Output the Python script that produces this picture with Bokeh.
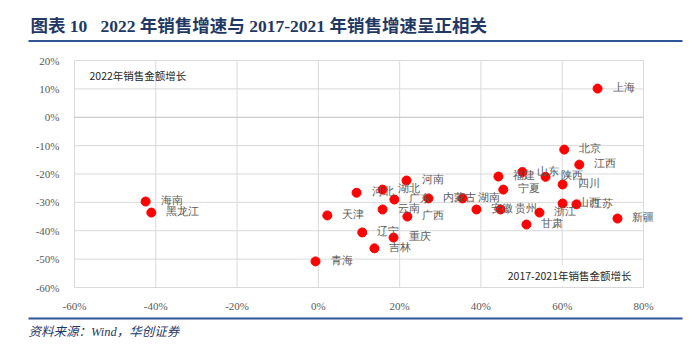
from bokeh.plotting import figure
from bokeh.models import Range1d, FixedTicker, Label, LabelSet, ColumnDataSource, LinearAxis
from bokeh.core.properties import value
from bokeh.embed import file_html
from bokeh.resources import INLINE

# ---------------- data ----------------
provinces = ["上海", "北京", "江西", "福建", "山东", "陕西", "四川", "宁夏",
             "安徽", "贵州", "浙江", "山西", "江苏", "甘肃", "新疆", "湖南",
             "内蒙古", "广东", "湖北", "河北", "河南", "云南", "广西", "天津",
             "辽宁", "重庆", "吉林", "青海", "海南", "黑龙江"]
growth_2017_2021 = [68.7, 60.5, 64.2, 44.3, 50.2, 55.9, 60.1, 45.5,
                    38.9, 44.8, 54.4, 60.1, 63.5, 51.2, 73.6, 35.5,
                    27.1, 18.7, 15.8, 9.4, 21.7, 15.8, 21.9, 2.2,
                    10.8, 18.5, 13.8, -0.7, -42.5, -41.1]
growth_2022 = [10.1, -11.4, -16.7, -20.9, -19.3, -21.0, -23.7, -25.5,
               -32.5, -32.5, -33.6, -30.4, -30.7, -37.8, -35.7, -28.6,
               -28.6, -29.0, -25.5, -26.6, -22.3, -32.5, -35.0, -34.6,
               -40.6, -42.4, -46.2, -50.8, -29.7, -33.6]
x_ticks = [-60, -40, -20, 0, 20, 40, 60, 80]
y_ticks = [-60, -50, -40, -30, -20, -10, 0, 10, 20]

NB = "\u00a0"
title_text = f"图表 10{NB}{NB}{NB}2022 年销售增速与 2017-2021 年销售增速呈正相关"
y_axis_note = "2022年销售金额增长"
x_axis_note = "2017-2021年销售金额增长"
source_text = "资料来源：Wind，华创证券"

# ---------------- layout constants (pixels) ----------------
W, H = 690, 352
FL, FR, FT, FB = 74, 643, 60, 287   # plot box in the page
X0, X1 = x_ticks[0], x_ticks[-1]
Y0, Y1 = y_ticks[0], y_ticks[-1]
KX = (FR - FL) / (X1 - X0)
KY = (FB - FT) / (Y1 - Y0)


def px_x(px):
    return X0 + (px - FL) / KX


def px_y(py):
    return Y1 - (py - FT) / KY


CJK = "Noto Sans CJK SC"
SERIF_CJK = "Liberation Serif, 'Noto Sans CJK SC'"
NAVY = "#1f3864"
LINE_BLUE = "#2f5597"
GRID = "#d9d9d9"

p = figure(width=W, height=H, x_range=Range1d(px_x(0), px_x(W)), y_range=Range1d(px_y(H), px_y(0)),
           output_backend="svg", toolbar_location=None, min_border=0,
           x_axis_location=None, y_axis_location=None)
p.background_fill_color = "white"
p.border_fill_color = "white"
p.outline_line_color = None
p.grid.visible = False

xaxis = LinearAxis(fixed_location=Y0, ticker=FixedTicker(ticks=x_ticks))
yaxis = LinearAxis(fixed_location=X0, ticker=FixedTicker(ticks=y_ticks))
xaxis.major_label_overrides = {t: f"{t}%" for t in x_ticks}
yaxis.major_label_overrides = {t: f"{t}%" for t in y_ticks}
for ax in (xaxis, yaxis):
    ax.axis_line_color = None
    ax.major_tick_line_color = None
    ax.minor_tick_line_color = None
    ax.major_label_text_font = "Liberation Serif"
    ax.major_label_text_font_size = "11px"
    ax.major_label_text_color = "#595959"
xaxis.major_label_standoff = 6
yaxis.major_label_standoff = 9
p.add_layout(xaxis, "below")
p.add_layout(yaxis, "left")

# gridlines and plot box
p.segment(x0=x_ticks, y0=[Y0] * len(x_ticks), x1=x_ticks, y1=[Y1] * len(x_ticks),
          line_color=GRID, line_width=1)
p.segment(x0=[X0] * len(y_ticks), y0=y_ticks, x1=[X1] * len(y_ticks), y1=y_ticks,
          line_color=[("#c0c0c0" if t == 0 else GRID) for t in y_ticks], line_width=1)

src = ColumnDataSource(dict(x=growth_2017_2021, y=growth_2022, name=provinces))
p.scatter("x", "y", source=src, size=9, fill_color="#ff0000", line_color="#ff0000")
p.add_layout(LabelSet(x="x", y="y", text="name", source=src, x_offset=15, y_offset=1,
                      text_font=CJK, text_font_size="10.5px", text_color="#595959",
                      text_baseline="middle", text_align="left"))

p.add_layout(Label(x=px_x(89), y=px_y(75), text=y_axis_note, text_font=CJK,
                   text_font_size="10.5px", text_color="#262626",
                   text_baseline="middle", text_align="left"))
p.add_layout(Label(x=px_x(634), y=px_y(275), text=x_axis_note, text_font=CJK,
                   text_font_size="10.5px", text_color="#262626",
                   text_baseline="middle", text_align="right",
                   background_fill_color="white", padding=3))

# header / footer
p.text(x=[px_x(30)], y=[px_y(25)], text=[title_text], text_font=value(SERIF_CJK),
       text_font_size="17.5px", text_font_style="bold", text_color=NAVY,
       text_baseline="middle", text_align="left")
p.segment(x0=[px_x(28)], y0=[px_y(40.5)], x1=[px_x(682)], y1=[px_y(40.5)],
          line_color=LINE_BLUE, line_width=2)
p.segment(x0=[px_x(28)], y0=[px_y(318)], x1=[px_x(682)], y1=[px_y(318)],
          line_color=LINE_BLUE, line_width=2)
p.text(x=[px_x(28)], y=[px_y(331)], text=[source_text], text_font=value(SERIF_CJK),
       text_font_size="12.5px", text_font_style="italic", text_color=NAVY,
       text_baseline="middle", text_align="left")

open("out.html", "w").write(file_html(p, INLINE))
